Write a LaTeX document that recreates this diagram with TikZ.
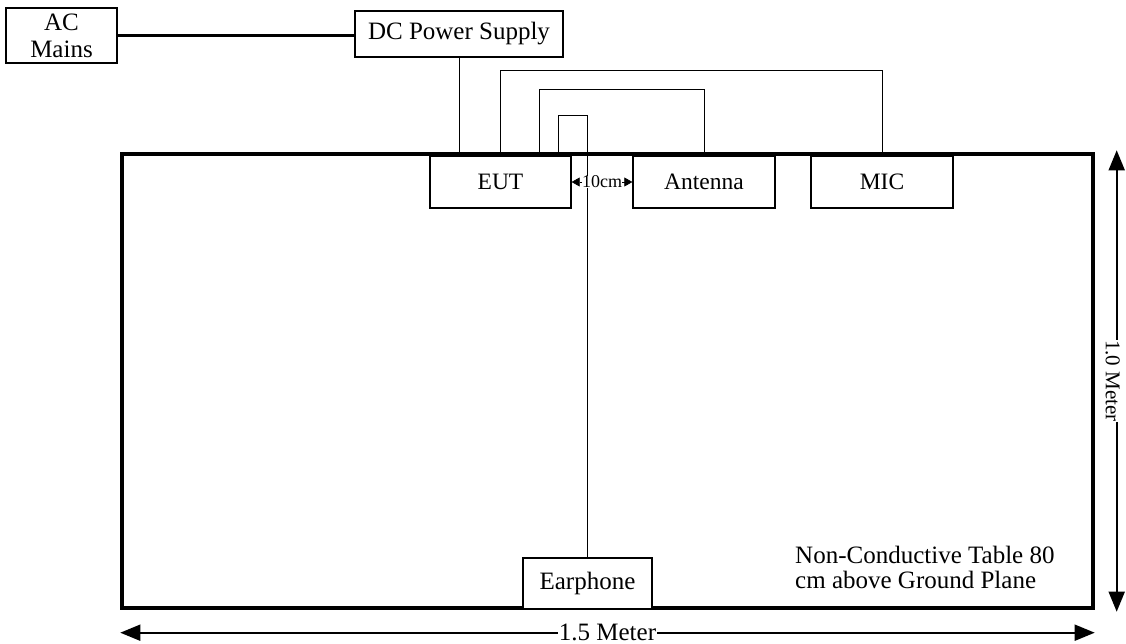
\documentclass[tikz,border=0pt]{standalone}
\usepackage{fontspec}
\setmainfont{Liberation Serif}
\usetikzlibrary{arrows.meta, positioning}

\begin{document}
\begin{tikzpicture}[
  x=1pt, y=-1pt,
  unit/.style={rectangle, draw, line width=1.3pt, fill=white, inner sep=0pt, align=center, font=\fontsize{25}{27}\selectfont},
  smallunit/.style={unit, font=\fontsize{23.5}{25}\selectfont},
  tablebox/.style={rectangle, draw, line width=3.4pt, inner sep=0pt},
  cable/.style={line width=0.9pt},
  mains/.style={line width=3pt},
  dimarrow/.style={{Triangle[length=20pt,width=16pt]}-{Triangle[length=20pt,width=16pt]}, line width=1.8pt},
  gaparrow/.style={{Triangle[length=8pt,width=9pt]}-{Triangle[length=8pt,width=9pt]}, line width=0.6pt},
  dimlabel/.style={fill=white, inner sep=1pt, font=\fontsize{25}{27}\selectfont},
]
\useasboundingbox (0,0) rectangle (1126,644);

% Table
\node[tablebox, minimum width=971pt, minimum height=454pt] (table) at (607.5,381) {};

% Supply side
\node[unit, minimum width=111pt, minimum height=55pt] (ac) at (61.5,35.5) {AC\\Mains};
\node[unit, minimum width=208pt, minimum height=46pt] (dc) at (459,34) {DC Power Supply};

% Units on the table
\node[smallunit, minimum width=141pt, minimum height=52pt] (eut) at (500.5,182) {EUT};
\node[smallunit, minimum width=142pt, minimum height=52pt] (ant) at (704,182) {Antenna};
\node[smallunit, minimum width=142pt, minimum height=52pt] (mic) at (882,182) {MIC};
\node[unit, minimum width=129pt, minimum height=51pt] (ear) at (587.5,583.5) {Earphone};

\node[align=left, anchor=base west, inner sep=0pt, font=\fontsize{25}{25}\selectfont] (note) at (795,588) {Non-Conductive Table 80\\cm above Ground Plane};

% Cables
\draw[mains] (ac.east) -- (ac.east -| dc.west);
\draw[cable] (dc.south) -- (dc.south |- table.north);
\draw[cable] (eut.north) -- ++(0,-85) -| (mic.north);
\draw[cable] ([xshift=38.5pt]eut.north) -- ++(0,-66) -| (ant.north);
\draw[cable] ([xshift=57.5pt]eut.north) -- ++(0,-40) -| (ear.north);

% Distances
\draw[gaparrow] (eut.east) -- (ant.west) node[midway, fill=white, inner sep=0pt, font=\fontsize{18}{18}\selectfont] {10cm};
\coordinate (wl) at ([yshift=-23pt]table.south west);
\coordinate (wr) at ([yshift=-23pt]table.south east);
\draw[dimarrow] (wl) -- (wr) node[midway, dimlabel] {1.5 Meter};
\coordinate (ht) at ([xshift=22pt, yshift=2pt]table.north east);
\coordinate (hb) at ([xshift=22pt, yshift=-2pt]table.south east);
\draw[dimarrow] (ht) -- (hb) node[midway, dimlabel, inner sep=0.5pt, xshift=-4pt, rotate=-90, font=\fontsize{21}{23}\selectfont] {1.0 Meter};

\end{tikzpicture}
\end{document}
